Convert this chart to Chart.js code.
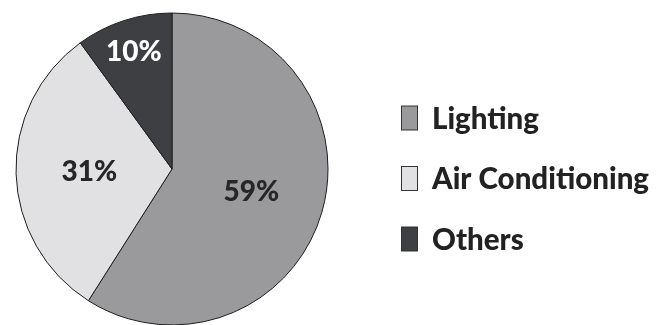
<!DOCTYPE html>
<html>
<head>
<meta charset="utf-8">
<script src="https://cdn.jsdelivr.net/npm/chart.js@4/dist/chart.umd.min.js"></script>
<style>
html,body{margin:0;padding:0;background:#fff;overflow:hidden;width:662px;height:325px;}
#wrap{width:662px;height:338px;}
</style>
</head>
<body>
<div id="wrap"><canvas id="c" width="662" height="338"></canvas></div>
<script>
const categories = ['Lighting', 'Air Conditioning', 'Others'];
const shares = [59, 31, 10];
const sliceLabels = ['59%', '31%', '10%'];
const colors = ['#9a9a9d', '#e1e1e3', '#3e3f42'];
const labelColors = ['#262626', '#262626', '#ffffff'];
const labelRadiusFactors = [0.53, 0.53, 0.79];

const sliceLabelPlugin = {
  id: 'sliceLabels',
  afterDatasetsDraw(chart) {
    const ctx = chart.ctx;
    const meta = chart.getDatasetMeta(0);
    ctx.save();
    ctx.font = '900 28px Lato, "Open Sans", sans-serif';
    ctx.textAlign = 'center';
    ctx.textBaseline = 'middle';
    meta.data.forEach((arc, i) => {
      const p = arc.getProps(['x','y','startAngle','endAngle','outerRadius'], true);
      const mid = (p.startAngle + p.endAngle) / 2;
      const r = p.outerRadius * labelRadiusFactors[i];
      ctx.fillStyle = labelColors[i];
      ctx.fillText(sliceLabels[i], p.x + Math.cos(mid) * r, p.y + Math.sin(mid) * r);
    });
    ctx.restore();
  }
};

const legendPlugin = {
  id: 'sideLegend',
  afterDraw(chart) {
    const ctx = chart.ctx;
    const ds = chart.data.datasets[0];
    ctx.save();
    ctx.font = '900 29.5px Lato, "Open Sans", sans-serif';
    ctx.textBaseline = 'middle';
    ctx.textAlign = 'left';
    chart.data.labels.forEach((lab, i) => {
      const cy = 118 + i * 60.5;
      ctx.fillStyle = ds.backgroundColor[i];
      ctx.fillRect(401.5, cy - 12, 16, 24);
      ctx.strokeStyle = '#333';
      ctx.lineWidth = 1;
      ctx.strokeRect(401.5, cy - 12, 16, 24);
      ctx.fillStyle = '#222';
      ctx.fillText(lab, 432, cy + 1);
    });
    ctx.restore();
  }
};

new Chart(document.getElementById('c'), {
  type: 'pie',
  data: {
    labels: categories,
    datasets: [{
      data: shares,
      backgroundColor: colors,
      borderColor: '#1e1e1e',
      borderWidth: 1,
      radius: 156
    }]
  },
  options: {
    responsive: false,
    animation: false,
    layout: { padding: { left: 3, top: 0, bottom: 0, right: 321 } },
    plugins: { legend: { display: false }, tooltip: { enabled: false } }
  },
  plugins: [sliceLabelPlugin, legendPlugin]
});
</script>
</body>
</html>
